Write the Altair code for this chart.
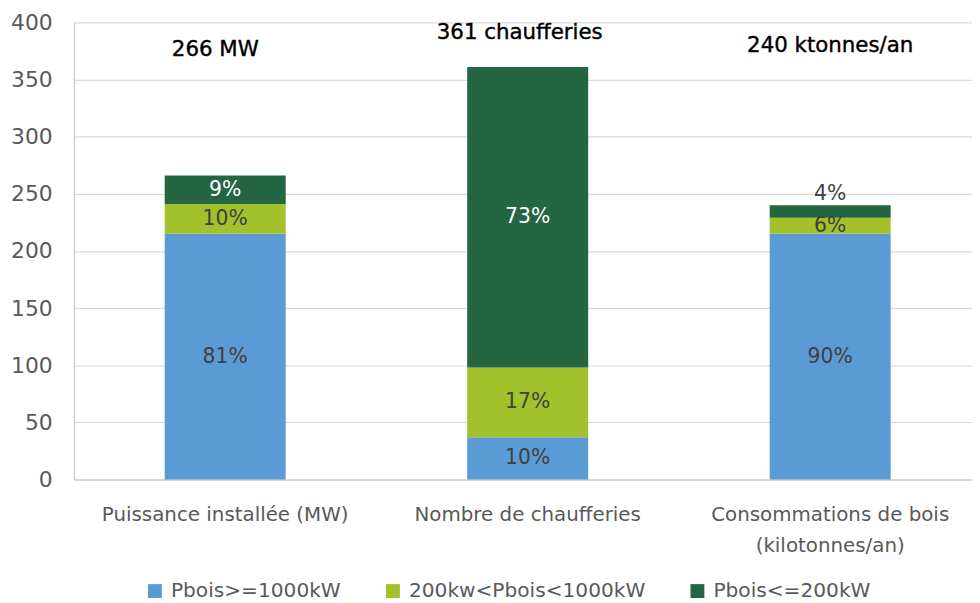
import altair as alt
import pandas as pd

categories = ["Puissance installée (MW)", "Nombre de chaufferies", "Consommations de bois\n(kilotonnes/an)"]
classes = ["Pbois>=1000kW", "200kw<Pbois<1000kW", "Pbois<=200kW"]
values_big = [215, 37, 215]
values_mid = [26, 61, 14]
values_small = [25, 263, 11]
pct_big = ["81%", "10%", "90%"]
pct_mid = ["10%", "17%", "6%"]
pct_small = ["9%", "73%", "4%"]
totals_text = ["266 MW", "361 chaufferies", "240 ktonnes/an"]
colors = ["#5B9BD5", "#A2C12B", "#236641"]

rows = []
for i, cat in enumerate(categories):
    for rank, (cls, vals, pcts) in enumerate(zip(classes, [values_big, values_mid, values_small],
                                                 [pct_big, pct_mid, pct_small])):
        rows.append({"cat": cat, "cls": cls, "rank": rank, "value": vals[i], "pct": pcts[i]})
df = pd.DataFrame(rows)
tot = pd.DataFrame({"cat": categories, "txt": totals_text})

FONT = "DejaVu Sans"
GRAY = "#595959"

x_enc = alt.X("cat:N", sort=categories, title=None,
              scale=alt.Scale(range=[0, 915], paddingInner=0.6, paddingOuter=0.3),
              axis=alt.Axis(labelExpr="split(datum.label, '\\n')", labelAngle=0, ticks=False,
                            labelPadding=25, labelLineHeight=32, labelFontSize=20,
                            labelLimit=0, labelColor=GRAY, labelFont=FONT,
                            domainColor="#d0d0d0", domainWidth=1.5))

bars = alt.Chart(df).mark_bar().encode(
    x=x_enc,
    y=alt.Y("value:Q", stack="zero", title=None,
            scale=alt.Scale(domain=[0, 400]),
            axis=alt.Axis(values=list(range(0, 401, 50)), ticks=False, labelPadding=22,
                          labelFontSize=22, labelColor=GRAY, labelFont=FONT, labelLimit=0,
                          gridColor="#d9d9d9", gridWidth=1.2, domain=True,
                          domainColor="#d0d0d0", domainWidth=1.5)),
    color=alt.Color("cls:N", sort=classes, scale=alt.Scale(domain=classes, range=colors),
                    legend=alt.Legend(title=None, orient="none", direction="horizontal",
                                      legendX=71.5, legendY=563, symbolType="square",
                                      symbolSize=196, symbolStrokeWidth=0, labelOffset=6,
                                      columnPadding=42, labelFontSize=20.3, labelColor=GRAY,
                                      labelFont=FONT, labelLimit=0)),
    order=alt.Order("rank:Q"),
)

labels = alt.Chart(df).transform_stack(
    stack="value", groupby=["cat"], as_=["y0", "y1"], sort=[alt.SortField("rank")]
).transform_calculate(
    ymid="datum.value < 12 ? datum.y1 + 10 : (datum.y0 + datum.y1) / 2",
    tcol="(datum.rank == 2 && datum.value >= 12) ? '#ffffff' : '#404040'",
).mark_text(fontSize=20.5, font=FONT, baseline="middle").encode(
    x=alt.X("cat:N", sort=categories),
    y=alt.Y("ymid:Q"),
    text="pct:N",
    color=alt.Color("tcol:N", scale=None),
)

tops = []
for i, (dx, ypx) in enumerate([(-10, 28), (-8, 11), (0, 24)]):
    tops.append(
        alt.Chart(tot).transform_filter(alt.datum.cat == categories[i])
        .mark_text(fontSize=21.5, font=FONT, color="#000000", dx=dx,
                   baseline="middle", stroke="#000000", strokeWidth=0.4)
        .encode(x=alt.X("cat:N", sort=categories), y=alt.value(ypx), text="txt:N")
    )

chart = alt.layer(bars, labels, *tops).properties(
    width=905.5, height=461,
    autosize=alt.AutoSizeParams(type="none"),
    padding={"left": 66.5, "top": 12, "right": 0, "bottom": 120},
).configure_view(stroke=None)

chart.save("out.html", embed_options={"renderer": "svg", "actions": False})
